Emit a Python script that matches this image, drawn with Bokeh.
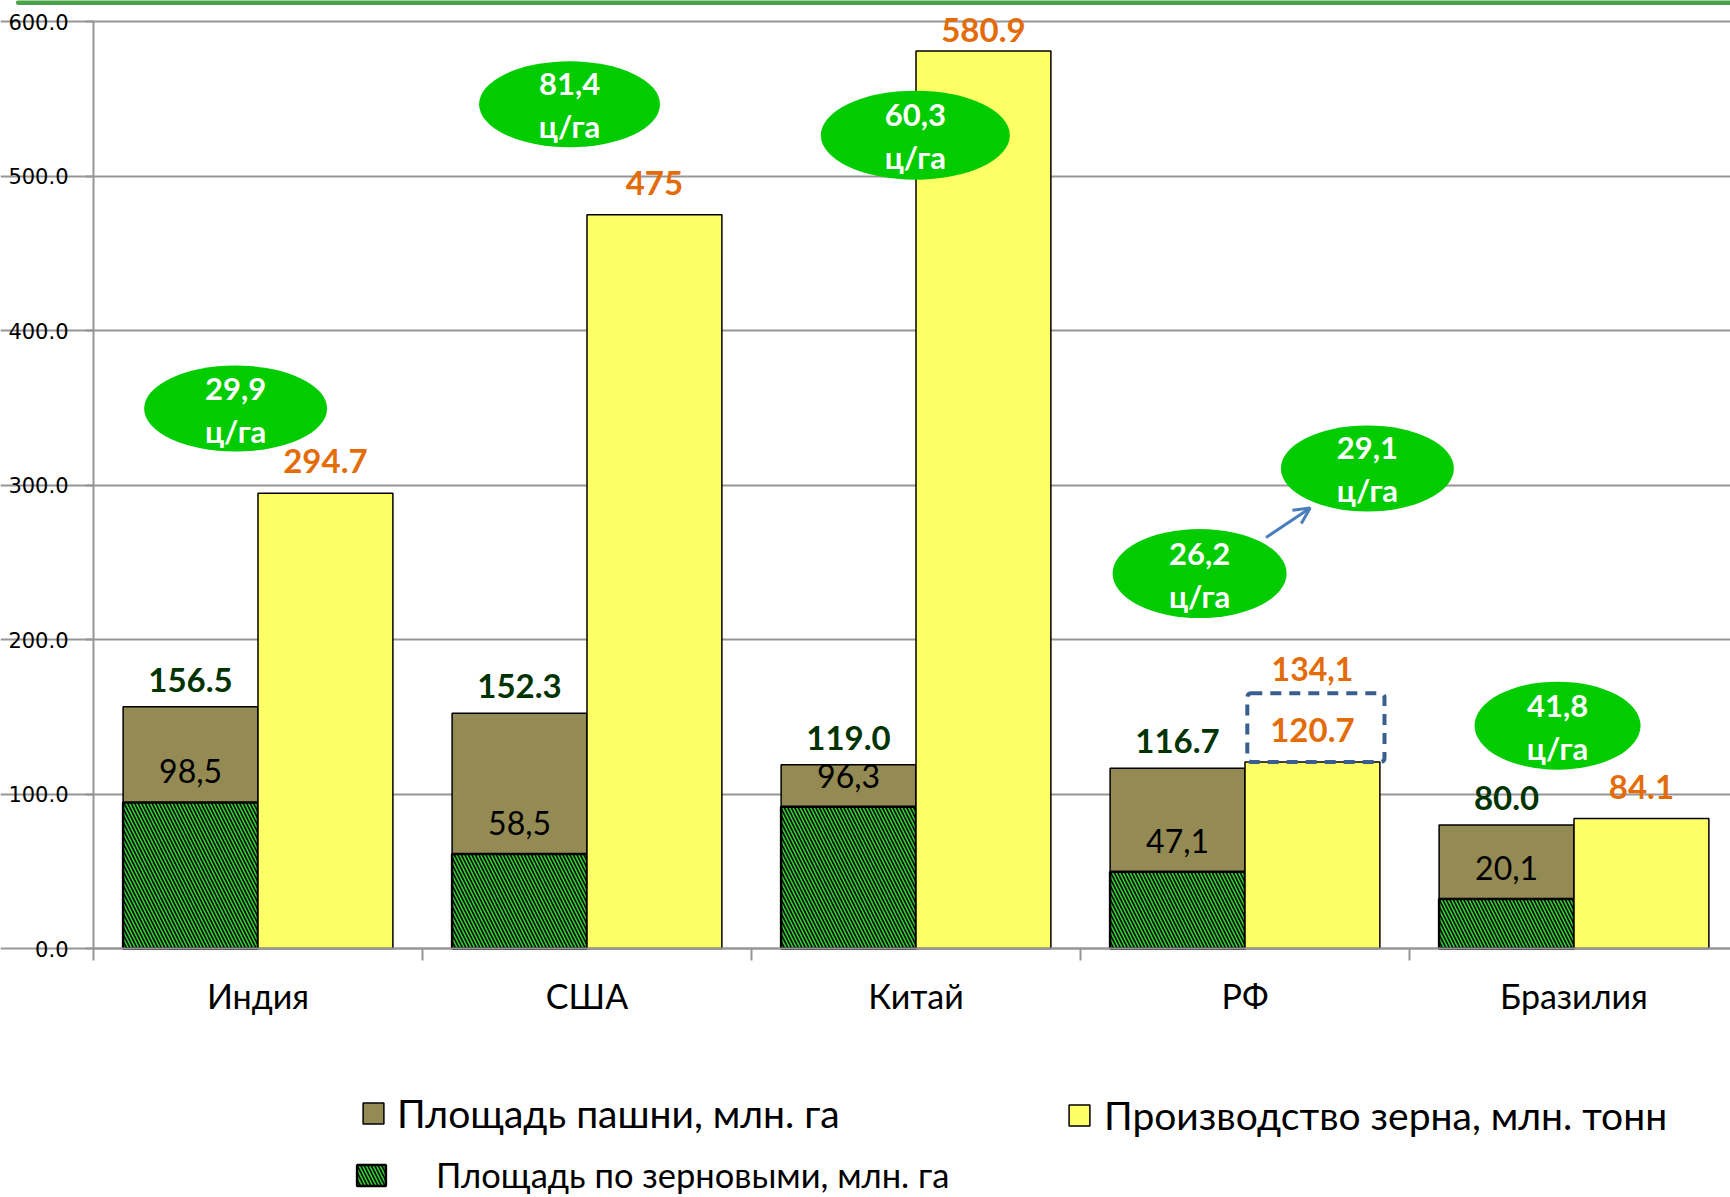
from bokeh.plotting import figure
from bokeh.models import (Range1d, FixedTicker, LinearAxis, Legend, LegendItem, LabelSet,
                          ColumnDataSource, BoxAnnotation, Arrow, OpenHead, Label,
                          NumeralTickFormatter, Grid)
from bokeh.core.properties import value
from bokeh.embed import file_html
from bokeh.resources import INLINE

# ---------------- data ----------------
countries = ["Индия", "США", "Китай", "РФ", "Бразилия"]
arable_area = [156.5, 152.3, 119.0, 116.7, 80.0]          # Площадь пашни, млн. га
grain_area = [94.5, 61.1, 91.8, 49.7, 32.0]               # Площадь по зерновыми, млн. га
grain_prod = [294.7, 475.0, 580.9, 120.7, 84.1]           # Производство зерна, млн. тонн
arable_labels = ["156.5", "152.3", "119.0", "116.7", "80.0"]
grain_area_labels = ["98,5", "58,5", "96,3", "47,1", "20,1"]
grain_prod_labels = ["294.7", "475", "580.9", "120.7", "84.1"]
yield_labels = ["29,9", "81,4", "60,3", "26,2", "29,1", "41,8"]
yield_unit = "ц/га"
rf_prod_alt = "134,1"
y_ticks = [0, 100, 200, 300, 400, 500, 600]

# ---------------- layout / style ----------------
W, H = 1730, 1197
AXIS_X_PX, Y600_PX, Y0_PX = 93, 21, 948
PX_PER_CAT = 329
PX_PER_VAL = (Y0_PX - Y600_PX) / 600.0
X_START = -AXIS_X_PX / PX_PER_CAT
X_END = (W - AXIS_X_PX) / PX_PER_CAT
Y_TOP = 600 + Y600_PX / PX_PER_VAL
Y_BOT = -(H - Y0_PX) / PX_PER_VAL
BAR_W = 0.41
PROD_LABEL_OFFSETS = [20, 20, 9, 20, 20]   # px above bar top (tallest bar sits under the frame top)

BROWN = "#948A54"
YELLOW = "#FFFF66"
HGREEN = "#33CC33"
DKGREEN = "#003300"
ORANGE = "#E36C09"
BADGE = "#00CC00"
GRID = "#969696"
FONT = "Lato"

# badge placement (x in category units, y in value units, w/h in px)
BADGE_POS = [(0.432, 349.5, 183, 86), (1.447, 546.4, 181, 86), (2.498, 526.4, 189, 89),
             (3.362, 242.7, 174, 89), (3.872, 310.7, 173, 86), (4.450, 144.2, 166, 88)]
ALT_LABEL_Y = 180.6
BOX = dict(left=3.507, right=3.924, top=165.2)
ARROW = dict(x_start=3.564, y_start=266, x_end=3.698, y_end=285.1)

n = len(countries)
centers = [i + 0.5 for i in range(n)]
bounds = list(range(n + 1))
x_left = [c - BAR_W / 2 for c in centers]
x_right = [c + BAR_W / 2 for c in centers]

src = ColumnDataSource(dict(xl=x_left, xr=x_right, arable=arable_area, grain=grain_area,
                            prod=grain_prod, al=arable_labels, gl=grain_area_labels,
                            pl=grain_prod_labels, po=PROD_LABEL_OFFSETS))

p = figure(width=W, height=H, output_backend="svg", toolbar_location=None,
           x_range=Range1d(X_START, X_END), y_range=Range1d(Y_BOT, Y_TOP),
           x_axis_type=None, y_axis_type=None,
           min_border_left=0, min_border_right=0, min_border_top=0, min_border_bottom=0)
p.outline_line_color = None
p.background_fill_color = "white"

# horizontal gridlines
p.add_layout(Grid(dimension=1, ticker=FixedTicker(ticks=y_ticks), bounds=(0, X_END),
                  grid_line_color=GRID, grid_line_width=2))

# top green frame line
p.segment(x0=[-0.228], y0=[Y_TOP - 2.0 / PX_PER_VAL], x1=[X_END + 0.1],
          y1=[Y_TOP - 2.0 / PX_PER_VAL], line_color="#49A449", line_width=5,
          line_cap="round")

# y axis
ya = LinearAxis(fixed_location=0, bounds=(0, 600), ticker=FixedTicker(ticks=y_ticks),
                formatter=NumeralTickFormatter(format="0.0"))
ya.major_label_text_font = "DejaVu Sans"
ya.major_label_text_font_size = "21px"
ya.major_label_text_color = "black"
ya.major_tick_out = 8
ya.major_tick_in = 0
ya.major_tick_line_color = GRID
ya.major_tick_line_width = 2
ya.minor_tick_line_color = None
ya.axis_line_color = GRID
ya.axis_line_width = 2
ya.major_label_standoff = 17
p.add_layout(ya, "left")

# x axis: labels at centers, ticks at category boundaries
xa = LinearAxis(fixed_location=0, bounds=(0, X_END),
                ticker=FixedTicker(ticks=centers, minor_ticks=bounds),
                major_label_overrides={c: name for c, name in zip(centers, countries)})
xa.major_tick_line_color = None
xa.major_tick_out = 0
xa.major_tick_in = 0
xa.minor_tick_line_color = GRID
xa.minor_tick_line_width = 2
xa.minor_tick_out = 12
xa.minor_tick_in = 0
xa.axis_line_color = GRID
xa.axis_line_width = 2
xa.major_label_text_font = FONT
xa.major_label_text_font_size = "34px"
xa.major_label_text_color = "black"
xa.major_label_standoff = 14
p.add_layout(xa, "below")

# bars
r_arable = p.vbar(x="xl", width=BAR_W, top="arable", bottom=0, source=src,
                  fill_color=BROWN, line_color="black", line_width=1.5)
r_grain = p.vbar(x="xl", width=BAR_W, top="grain", bottom=0, source=src,
                 fill_color=HGREEN, line_color="black", line_width=2.5,
                 hatch_pattern="left_diagonal_line", hatch_color="black",
                 hatch_scale=7, hatch_weight=1.5)
r_prod = p.vbar(x="xr", width=BAR_W, top="prod", bottom=0, source=src,
                fill_color=YELLOW, line_color="black", line_width=1.5)

# value labels
p.add_layout(LabelSet(x="xl", y="arable", text="al", source=src, y_offset=15,
                      text_align="center", text_baseline="alphabetic",
                      text_font=value(FONT), text_font_style="bold",
                      text_font_size="33px", text_color=DKGREEN))
p.add_layout(LabelSet(x="xr", y="prod", text="pl", source=src, y_offset="po",
                      text_align="center", text_baseline="alphabetic",
                      text_font=value(FONT), text_font_style="bold",
                      text_font_size="33px", text_color=ORANGE))
p.add_layout(LabelSet(x="xl", y="grain", text="gl", source=src, y_offset=19,
                      text_align="center", text_baseline="alphabetic",
                      text_font=value(FONT), text_font_size="32px", text_color="black"))

# yield badges
bsrc = ColumnDataSource(dict(x=[b[0] for b in BADGE_POS], y=[b[1] for b in BADGE_POS],
                             w=[b[2] for b in BADGE_POS], h=[b[3] for b in BADGE_POS],
                             t1=yield_labels, t2=[yield_unit] * len(yield_labels)))
p.ellipse(x="x", y="y", width="w", height="h", width_units="screen", height_units="screen",
          source=bsrc, fill_color=BADGE, line_color=None)
p.text(x="x", y="y", text="t1", source=bsrc, y_offset=-20, text_align="center",
       text_baseline="middle", text_font=value(FONT), text_font_style="bold",
       text_font_size="31px", text_color="white")
p.text(x="x", y="y", text="t2", source=bsrc, y_offset=22, text_align="center",
       text_baseline="middle", text_font=value(FONT), text_font_style="bold",
       text_font_size="31px", text_color="white")

# arrow between RF badges
p.add_layout(Arrow(end=OpenHead(size=16, line_color="#4A7EBB", line_width=3),
                   line_color="#4A7EBB", line_width=3, **ARROW))

# dashed box around RF production label and the alternative value above it
p.add_layout(BoxAnnotation(bottom=grain_prod[3], fill_alpha=0, line_color="#3A5F8F",
                           line_alpha=1, line_width=4, line_dash="11 8", border_radius=4,
                           **BOX))
p.add_layout(Label(x=x_right[3], y=ALT_LABEL_Y, text=rf_prod_alt,
                   text_align="center", text_baseline="alphabetic", text_font=FONT,
                   text_font_style="bold", text_font_size="32px", text_color=ORANGE))

# legends
def add_legend(renderer, label, vx, vy, standoff, size, gw, gh):
    lg = Legend(items=[LegendItem(label=label, renderers=[renderer])], location=(vx, vy),
                orientation="horizontal", padding=0, margin=0, border_line_color=None,
                background_fill_alpha=0, glyph_width=gw, glyph_height=gh,
                label_standoff=standoff, label_text_font=FONT, label_text_font_size=size,
                label_text_color="black", spacing=0)
    p.add_layout(lg, "center")

add_legend(r_arable, "Площадь пашни, млн. га", 360, 61, 11, "39px", 26, 26)
add_legend(r_prod, "Производство зерна, млн. тонн", 1066, 59, 12, "39px", 26, 26)
add_legend(r_grain, "Площадь по зерновыми, млн. га", 353, 2, 47, "34.5px", 36, 26)

open("out.html", "w").write(file_html(p, INLINE))
